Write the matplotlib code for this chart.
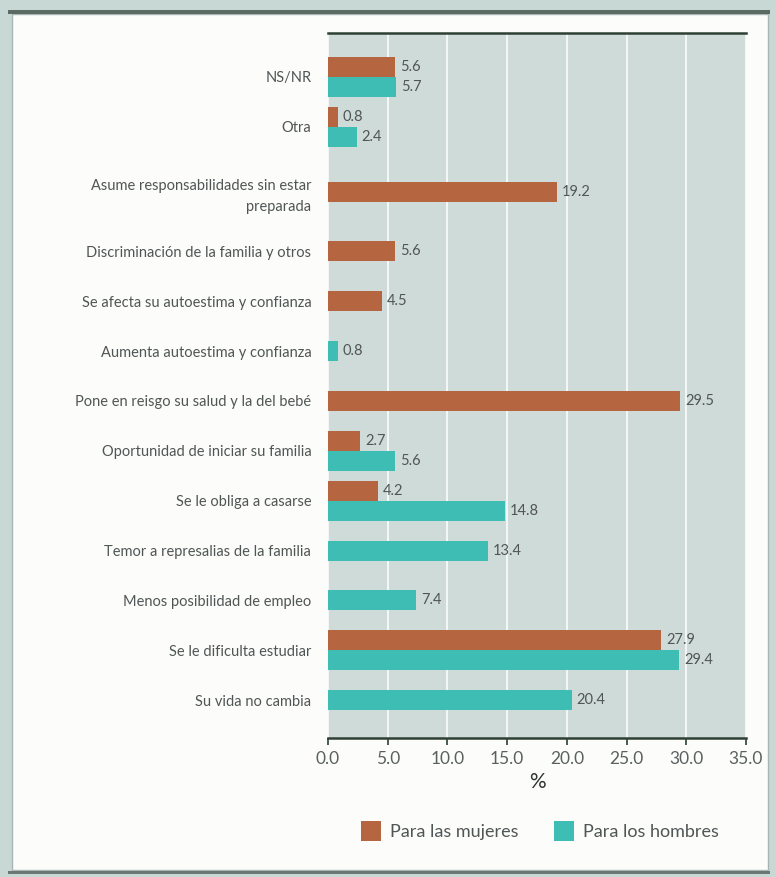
import numpy as np
import matplotlib.pyplot as plt
from matplotlib.patches import Rectangle, Patch

plt.rcParams["font.family"] = ["Liberation Sans Narrow", "Lato", "DejaVu Sans"]

categories = [
    "NS/NR",
    "Otra",
    "Asume responsabilidades sin estar\npreparada",
    "Discriminación de la familia y otros",
    "Se afecta su autoestima y confianza",
    "Aumenta autoestima y confianza",
    "Pone en reisgo su salud y la del bebé",
    "Oportunidad de iniciar su familia",
    "Se le obliga a casarse",
    "Temor a represalias de la familia",
    "Menos posibilidad de empleo",
    "Se le dificulta estudiar",
    "Su vida no cambia",
]
mujeres = [5.6, 0.8, 19.2, 5.6, 4.5, None, 29.5, 2.7, 4.2, None, None, 27.9, None]
hombres = [5.7, 2.4, None, None, None, 0.8, None, 5.6, 14.8, 13.4, 7.4, 29.4, 20.4]
xticks = [0, 5, 10, 15, 20, 25, 30, 35]

c_muj = "#b5653f"
c_hom = "#3dbdb3"
c_text = "#505555"
page_bg = "#c8d8d5"

fig = plt.figure(figsize=(7.76, 8.77), dpi=100)
fig.patch.set_facecolor(page_bg)

# white panel with dark rules top and bottom
fig.patches.append(Rectangle((12 / 776, 7 / 877), 756 / 776, 856 / 877,
                             transform=fig.transFigure, facecolor="#fcfdfb",
                             edgecolor="#a9b5b2", linewidth=1.0, zorder=-3))
fig.patches.append(Rectangle((8 / 776, 1 - 14 / 877), 762 / 776, 4 / 877,
                             transform=fig.transFigure, facecolor="#5c6a64",
                             edgecolor="none", zorder=-2))
fig.patches.append(Rectangle((8 / 776, 3 / 877), 762 / 776, 3 / 877,
                             transform=fig.transFigure, facecolor="#6b7773",
                             edgecolor="none", zorder=-2))

ax = fig.add_axes([328 / 776, 1 - 738 / 877, 418 / 776, 705 / 877])
ax.set_facecolor("#cfdbd9")

# row positions: the two-line label gets a bit of extra room
y = np.arange(len(categories), dtype=float)
y[2] += 0.3
y[3:] += 0.5

h = 0.4
for i, yc in enumerate(y):
    m, w = mujeres[i], hombres[i]
    if m is not None and w is not None:
        pos = [(m, yc - h / 2, c_muj), (w, yc + h / 2, c_hom)]
    elif m is not None:
        pos = [(m, yc, c_muj)]
    else:
        pos = [(w, yc, c_hom)]
    for val, yy, col in pos:
        ax.barh(yy, val, height=h, color=col, zorder=3)
        ax.text(val + 0.4, yy, f"{val:.1f}", va="center", ha="left",
                fontsize=10.5, color=c_text, zorder=4)

ax.set_ylim(y[-1] + 0.76, -0.88)
ax.set_xlim(0, 35)
ax.set_yticks(y)
ax.set_yticklabels(categories, fontsize=10.5, color=c_text, linespacing=1.6)
ax.tick_params(axis="y", length=0, pad=12)
ax.set_xticks(xticks)
ax.set_xticklabels([f"{t:.1f}" for t in xticks], fontsize=12.5, color="#5a6060")
ax.tick_params(axis="x", direction="out", length=5, width=1.2, color="#2e4034", pad=4)
ax.xaxis.grid(True, color="white", linewidth=1.1, zorder=1)
ax.set_axisbelow(True)

for side in ["left", "right"]:
    ax.spines[side].set_visible(False)
ax.spines["top"].set_color("#2e4034")
ax.spines["top"].set_linewidth(1.8)
ax.spines["bottom"].set_color("#2e4034")
ax.spines["bottom"].set_linewidth(1.8)

ax.set_xlabel("%", fontsize=15, color="#2f3433", labelpad=4)

handles = [Patch(facecolor=c_muj, label="Para las mujeres"),
           Patch(facecolor=c_hom, label="Para los hombres")]
fig.legend(handles=handles, loc="center", bbox_to_anchor=(540 / 776, 1 - 831 / 877),
           ncol=2, frameon=False, fontsize=13, labelcolor=c_text,
           handlelength=1.1, handleheight=1.4, columnspacing=2.0, handletextpad=0.5)

fig.savefig("out.png", dpi=100, facecolor=fig.get_facecolor())
